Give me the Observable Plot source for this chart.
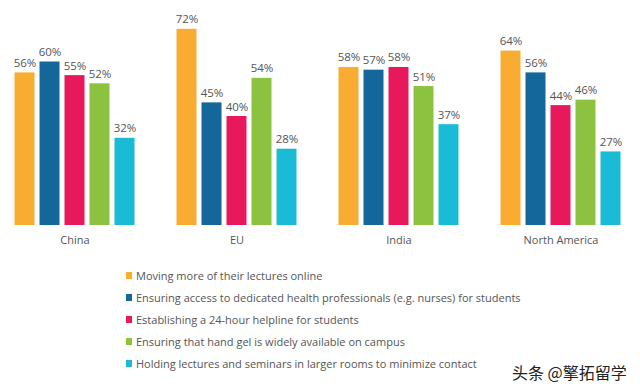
<!DOCTYPE html>
<html>
<head>
<meta charset="utf-8">
<script src="https://cdn.jsdelivr.net/npm/d3@7"></script>
<script src="https://cdn.jsdelivr.net/npm/@observablehq/plot@0.6"></script>
<style>
  html, body { margin: 0; padding: 0; background: #fff; }
  body { width: 640px; height: 391px; position: relative; overflow: hidden; font-family: "Open Sans", sans-serif; }
  #legend { position: absolute; left: 126px; top: 264px; }
  .item { height: 22px; display: flex; align-items: center; font-size: 11px; color: #555; white-space: nowrap; }
  .sw { width: 6px; height: 7px; margin-right: 4px; display: inline-block; }
  #mark { position: absolute; left: 512px; top: 360px; font-family: "Noto Sans CJK SC", sans-serif; font-size: 16px; color: #222; white-space: nowrap; }
</style>
</head>
<body>
<div id="chart"></div>
<div id="legend"></div>
<div id="mark">头条 @擎拓留学</div>
<script>
const regions = ["China", "EU", "India", "North America"];
const measures = [
  "Moving more of their lectures online",
  "Ensuring access to dedicated health professionals (e.g. nurses) for students",
  "Establishing a 24-hour helpline for students",
  "Ensuring that hand gel is widely available on campus",
  "Holding lectures and seminars in larger rooms to minimize contact"
];
const colors = ["#F9AC32", "#14679A", "#E8185C", "#8CC240", "#1ABBD4"];
const chinaValues = [56, 60, 55, 52, 32];
const euValues = [72, 45, 40, 54, 28];
const indiaValues = [58, 57, 58, 51, 37];
const northAmericaValues = [64, 56, 44, 46, 27];

const seriesByRegion = [chinaValues, euValues, indiaValues, northAmericaValues];
const data = [];
regions.forEach((r, i) => {
  measures.forEach((m, j) => {
    data.push({region: r, measure: m, value: seriesByRegion[i][j]});
  });
});

const chart = Plot.plot({
  width: 640,
  height: 260,
  marginTop: 7,
  marginBottom: 35,
  marginLeft: 11.5,
  marginRight: 16,
  style: {fontFamily: "Open Sans, sans-serif", background: "#fff", overflow: "visible"},
  fx: {domain: regions, paddingInner: 0.2308, paddingOuter: 0, label: null},
  x: {domain: measures, paddingInner: 0.22, paddingOuter: 0.11, axis: null},
  y: {domain: [0, 80], axis: null},
  color: {domain: measures, range: colors},
  marks: [
    Plot.barY(data, {fx: "region", x: "measure", y: "value", fill: "measure"}),
    Plot.text(data, {fx: "region", x: "measure", y: "value", text: d => d.value + "%", lineAnchor: "bottom", dy: -6, fontSize: 11.5, fill: "#555"}),
    Plot.axisFx({anchor: "bottom", tickSize: 0, tickPadding: 11, fontSize: 11, color: "#555", label: null})
  ]
});
document.getElementById("chart").appendChild(chart);

const legend = document.getElementById("legend");
measures.forEach((m, j) => {
  const row = document.createElement("div");
  row.className = "item";
  const sw = document.createElement("span");
  sw.className = "sw";
  sw.style.background = colors[j];
  row.appendChild(sw);
  row.appendChild(document.createTextNode(m));
  legend.appendChild(row);
});
</script>
</body>
</html>
